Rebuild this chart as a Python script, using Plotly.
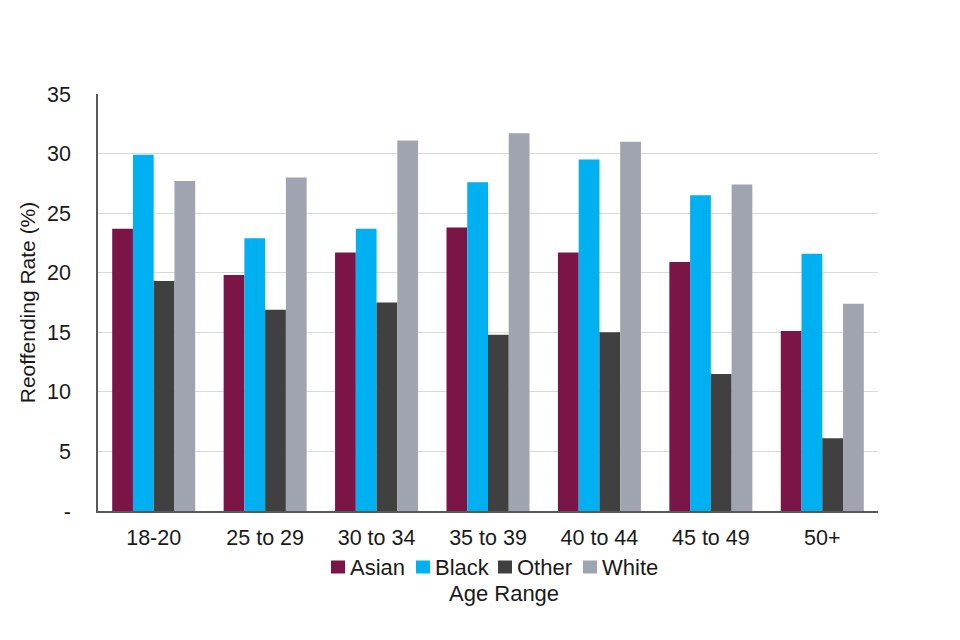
import plotly.graph_objects as go

categories = ["18-20", "25 to 29", "30 to 34", "35 to 39", "40 to 44", "45 to 49", "50+"]
asian = [23.7, 19.8, 21.7, 23.8, 21.7, 20.9, 15.1]
black = [29.9, 22.9, 23.7, 27.6, 29.5, 26.5, 21.6]
other = [19.3, 16.9, 17.5, 14.8, 15.0, 11.5, 6.1]
white = [27.7, 28.0, 31.1, 31.7, 31.0, 27.4, 17.4]
series_names = ["Asian", "Black", "Other", "White"]
colors = ["#7B1548", "#00B0F0", "#404040", "#A0A4B0"]
y_ticks = [0, 5, 10, 15, 20, 25, 30, 35]
y_tick_labels = ["-", "5", "10", "15", "20", "25", "30", "35"]

W, H = 960, 640
ML, MR, MT, MB = 90, 90, 86, 137
PW, PH = W - ML - MR, H - MT - MB


def px_x(p):
    return (p - ML) / PW


def px_y(p):
    return (H - MB - p) / PH


fig = go.Figure()
for name, vals, col in zip(series_names, [asian, black, other, white], colors):
    fig.add_trace(go.Bar(name=name, x=categories, y=vals, showlegend=False,
                         marker=dict(color=col, line=dict(width=0))))

font = "Liberation Sans, Arial, sans-serif"

# compact legend (Excel style): small square + text, built from the series lists
legend_text_x = [340, 425, 507, 592]
legend_y = 559
shapes = []
annotations = []
for name, col, tx in zip(series_names, colors, legend_text_x):
    shapes.append(dict(type="rect", xref="paper", yref="paper",
                       x0=px_x(tx - 17), x1=px_x(tx - 3),
                       y0=px_y(legend_y + 6.5), y1=px_y(legend_y - 6.5),
                       fillcolor=col, line=dict(width=0)))
    annotations.append(dict(text=name, x=px_x(tx), y=px_y(legend_y), xref="paper", yref="paper",
                            xanchor="left", yanchor="middle", showarrow=False,
                            font=dict(size=22)))
annotations.append(dict(text="Age Range", x=0.5205, xref="paper", y=-0.197, yref="paper",
                        showarrow=False, font=dict(size=22), xanchor="center", yanchor="middle"))

fig.update_layout(
    width=W, height=H,
    barmode="group", bargap=0.255, bargroupgap=0,
    plot_bgcolor="white", paper_bgcolor="white",
    margin=dict(l=ML, r=MR, t=MT, b=MB, autoexpand=False),
    font=dict(family=font, size=21.5, color="#1a1a1a"),
    showlegend=False,
    xaxis=dict(showline=True, linecolor="#595959", linewidth=1.5, ticks="",
               tickfont=dict(size=21.5), automargin=False, ticklabelstandoff=6),
    yaxis=dict(range=[0, 35], tickvals=y_ticks, ticktext=y_tick_labels,
               showgrid=True, gridcolor="#D9D9D9", gridwidth=1,
               showline=True, linecolor="#595959", linewidth=1.5, ticks="",
               zeroline=False, tickfont=dict(size=21.5), automargin=False,
               ticklabelstandoff=21,
               title=dict(text="Reoffending Rate (%)", font=dict(size=21), standoff=6)),
    shapes=shapes,
    annotations=annotations,
)
fig.write_html("out.html")
